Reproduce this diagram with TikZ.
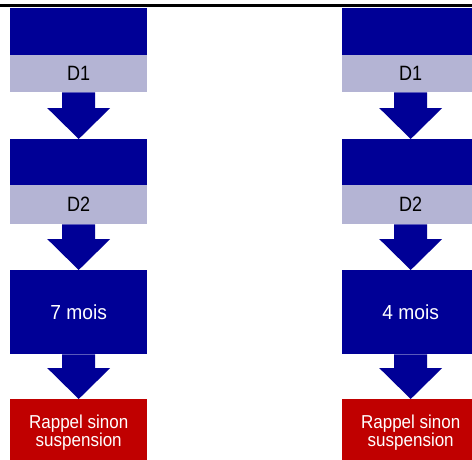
\documentclass[tikz,border=0pt]{standalone}
\usepackage{graphicx}
\usepackage{fontspec}
\setmainfont{Liberation Sans}
\usetikzlibrary{calc}
\definecolor{navy}{RGB}{0,0,150}
\definecolor{lavender}{RGB}{180,180,212}
\definecolor{alert}{RGB}{192,0,0}
\tikzset{
  block/.style={rectangle, inner sep=0pt, minimum width=137pt, anchor=north west},
  darkblock/.style={block, fill=navy, text=white},
  doseblock/.style={block, fill=lavender, text=black},
  alertblock/.style={block, fill=alert, text=white},
}
% slightly tall lettering
\newcommand{\doselabel}[1]{\scalebox{1}[1.15]{\fontsize{18}{18}\selectfont #1}}
\newcommand{\delaylabel}[1]{\scalebox{1}[1.06]{\fontsize{19.2}{19}\selectfont #1}}
\newcommand{\alertlabel}[2]{\scalebox{1}[1.1]{\parbox{137pt}{\centering
  \fontsize{17}{15.5}\selectfont #1\\#2}}}
% broad block arrow from the bottom of one box to the top of the next
\newcommand{\blockarrow}[2]{%
  \fill[navy] let \p1=(#1.south), \p2=(#2.north) in
    (\x1-16.5pt,\y1) -- (\x1+16.5pt,\y1) -- (\x1+16.5pt,\y2+31pt)
    -- (\x1+31.5pt,\y2+31pt) -- (\x2,\y2) -- (\x1-31.5pt,\y2+31pt)
    -- (\x1-16.5pt,\y2+31pt) -- cycle;}
\begin{document}
\begin{tikzpicture}[x=1pt, y=-1pt]
  \useasboundingbox (0,0) rectangle (472,459);
  \clip (0,0) rectangle (472,459);
  \fill[white] (0,0) rectangle (472,459);
  % header rule
  \draw[line width=2.5pt] (0,5.7) -- (472,5.7);

  % schedule on the left
  \node[darkblock, minimum height=47pt] (la) at (10,8) {};
  \node[doseblock, minimum height=37pt] (ld1) at (10,55) {\doselabel{D1}};
  \node[darkblock, minimum height=46pt] (lb) at (10,139) {};
  \node[doseblock, minimum height=39pt] (ld2) at (10,185) {\doselabel{D2}};
  \node[darkblock, minimum height=84pt] (lm) at (10,270) {\delaylabel{7 mois}};
  \node[alertblock, minimum height=67pt] (lr) at (10,399) {\alertlabel{Rappel sinon}{suspension}};
  \blockarrow{ld1}{lb}
  \blockarrow{ld2}{lm}
  \blockarrow{lm}{lr}

  % schedule on the right
  \node[darkblock, minimum height=47pt] (ra) at (342,8) {};
  \node[doseblock, minimum height=37pt] (rd1) at (342,55) {\doselabel{D1}};
  \node[darkblock, minimum height=46pt] (rb) at (342,139) {};
  \node[doseblock, minimum height=39pt] (rd2) at (342,185) {\doselabel{D2}};
  \node[darkblock, minimum height=84pt] (rm) at (342,270) {\delaylabel{4 mois}};
  \node[alertblock, minimum height=67pt] (rr) at (342,399) {\alertlabel{Rappel sinon}{suspension}};
  \blockarrow{rd1}{rb}
  \blockarrow{rd2}{rm}
  \blockarrow{rm}{rr}
\end{tikzpicture}
\end{document}
